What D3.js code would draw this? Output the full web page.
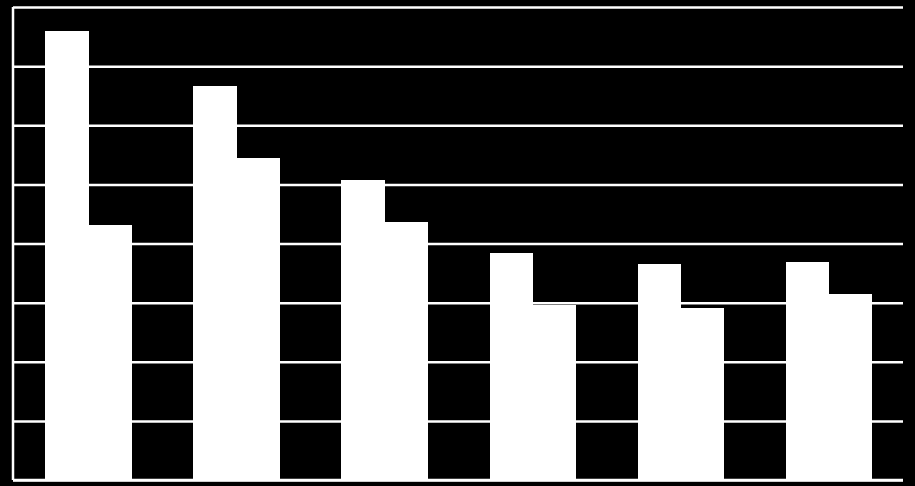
<!DOCTYPE html>
<html>
<head>
<meta charset="utf-8">
<script src="https://cdn.jsdelivr.net/npm/d3@7"></script>
<style>
  html, body { margin: 0; padding: 0; background: #000; }
  svg { display: block; }
</style>
</head>
<body>
<div class="chart"></div>
<script>
var width = 915;
var height = 486;

// data
var categories = ["1", "2", "3", "4", "5", "6"];
var seriesNames = ["A", "B"];
var seriesA = [7.6, 6.67, 5.07, 3.84, 3.65, 3.69];
var seriesB = [4.31, 5.44, 4.36, 2.96, 2.91, 3.15];
var yTicks = [0, 1, 2, 3, 4, 5, 6, 7, 8];

var plotLeft = 13, plotRight = 903, plotTop = 7, plotBottom = 480;

var x0 = d3.scaleBand()
    .domain(categories)
    .range([plotLeft + 1, plotRight])
    .paddingInner(0.42)
    .paddingOuter(0.21);

var x1 = d3.scaleBand()
    .domain(seriesNames)
    .range([0, x0.bandwidth()]);

var y = d3.scaleLinear().domain([0, 8]).range([plotBottom, plotTop]);

var svg = d3.select(".chart").append("svg")
    .attr("width", width).attr("height", height);

svg.append("rect").attr("width", width).attr("height", height).attr("fill", "#000");

// gridlines
var grid = svg.append("g")
    .attr("transform", "translate(" + plotLeft + ",0)")
    .call(d3.axisLeft(y).tickValues(yTicks).tickSize(-(plotRight - plotLeft)).tickFormat(""));
grid.select(".domain").remove();
grid.selectAll(".tick line").attr("stroke", "#fff").attr("stroke-width", 2.5);

var rows = categories.map(function(c, i) {
    return { cat: c, values: [
        { key: seriesNames[0], value: seriesA[i] },
        { key: seriesNames[1], value: seriesB[i] }
    ]};
});

svg.append("g").selectAll("g")
    .data(rows)
    .enter().append("g")
    .attr("transform", function(d) { return "translate(" + x0(d.cat) + ",0)"; })
    .selectAll("rect")
    .data(function(d) { return d.values; })
    .enter().append("rect")
    .attr("x", function(d) { return x1(d.key); })
    .attr("y", function(d) { return y(d.value); })
    .attr("width", x1.bandwidth() + 0.5)
    .attr("height", function(d) { return y(0) - y(d.value); })
    .attr("fill", "#fff")
    .attr("shape-rendering", "crispEdges");

// axis lines
svg.append("line")
    .attr("x1", plotLeft).attr("x2", plotLeft)
    .attr("y1", y(8)).attr("y2", y(0))
    .attr("stroke", "#fff").attr("stroke-width", 2.5);
svg.append("line")
    .attr("x1", plotLeft).attr("x2", plotRight)
    .attr("y1", y(0)).attr("y2", y(0))
    .attr("stroke", "#fff").attr("stroke-width", 2.5);
</script>
</body>
</html>
